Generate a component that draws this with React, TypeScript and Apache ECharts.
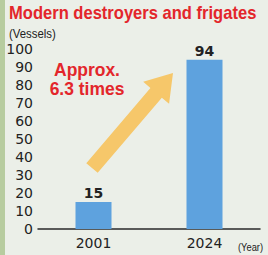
import React, { useEffect, useRef } from "react";
import * as echarts from "echarts";

const categories = ["2001", "2024"];
const vessels = [15, 94];
const yTicks = [0, 10, 20, 30, 40, 50, 60, 70, 80, 90, 100];

const title = "Modern destroyers and frigates";
const yUnit = "(Vessels)";
const xUnit = "(Year)";
const note = "Approx.\n6.3 times";

export default function App() {
  const ref = useRef<HTMLDivElement>(null);
  useEffect(() => {
    if (!ref.current) return;
    const chart = echarts.init(ref.current, null, { renderer: "svg" });
    // arrow geometry (annotation)
    const T = [92, 168];
    const P = [173, 73];
    const dx = P[0] - T[0], dy = P[1] - T[1];
    const len = Math.hypot(dx, dy);
    const u = [dx / len, dy / len];
    const n = [-u[1], u[0]];
    const headLen = 26, sw = 7.5, hw = 17;
    const B = [P[0] - headLen * u[0], P[1] - headLen * u[1]];
    const pt = (c: number[], k: number) => [c[0] + k * n[0], c[1] + k * n[1]];
    const arrowPts = [pt(T, -sw), pt(B, -sw), pt(B, -hw), P, pt(B, hw), pt(B, sw), pt(T, sw)];

    chart.setOption({
      animation: false,
      backgroundColor: "#ebefe8",
      grid: { left: 38, right: 8, top: 49, bottom: 26 },
      xAxis: {
        type: "category",
        data: categories,
        axisLine: { show: true, lineStyle: { color: "#2a2a2a", width: 1.5 } },
        axisTick: { show: false },
        axisLabel: { color: "#222", fontSize: 14, fontFamily: "DejaVu Sans", margin: 7 },
      },
      yAxis: {
        type: "value",
        min: yTicks[0],
        max: yTicks[yTicks.length - 1],
        interval: 10,
        splitLine: { show: false },
        axisLine: { show: false },
        axisTick: { show: false },
        axisLabel: { color: "#222", fontSize: 14, fontFamily: "DejaVu Sans", margin: 5 },
      },
      series: [
        {
          type: "bar",
          data: vessels,
          barWidth: 36,
          itemStyle: { color: "#5ea2de" },
          label: {
            show: true,
            position: "top",
            distance: 2,
            color: "#222",
            fontSize: 14,
            fontWeight: "bold",
            fontFamily: "DejaVu Sans",
          },
        },
      ],
      graphic: [
        { type: "rect", left: 0, top: 0, z: -10, shape: { width: 5, height: 255 }, style: { fill: "#b7cc9f" } },
        {
          type: "text",
          x: 9,
          y: 4,
          scaleX: 0.92,
          style: {
            text: title,
            fill: "#e3262b",
            font: 'bold 18px "Liberation Sans", sans-serif',
          },
        },
        {
          type: "text",
          x: 9,
          y: 27,
          scaleX: 0.95,
          style: {
            text: yUnit,
            fill: "#222",
            font: '12px "Liberation Sans", sans-serif',
          },
        },
        {
          type: "polygon",
          z: 5,
          shape: { points: arrowPts },
          style: { fill: "#f6c35e", opacity: 0.92 },
        },
        {
          type: "text",
          x: 87,
          y: 60,
          z: 6,
          scaleX: 0.97,
          style: {
            text: note,
            fill: "#e3262b",
            align: "center",
            lineHeight: 19,
            font: 'bold 18px "Liberation Sans", sans-serif',
          },
        },
        {
          type: "text",
          x: 238,
          y: 242,
          scaleX: 0.85,
          style: {
            text: xUnit,
            fill: "#222",
            font: '11px "Liberation Sans", sans-serif',
          },
        },
      ],
    });
    return () => chart.dispose();
  }, []);
  return (
    <div
      ref={ref}
      style={{ position: "fixed", left: 0, top: 0, width: 268, height: 255 }}
    />
  );
}
